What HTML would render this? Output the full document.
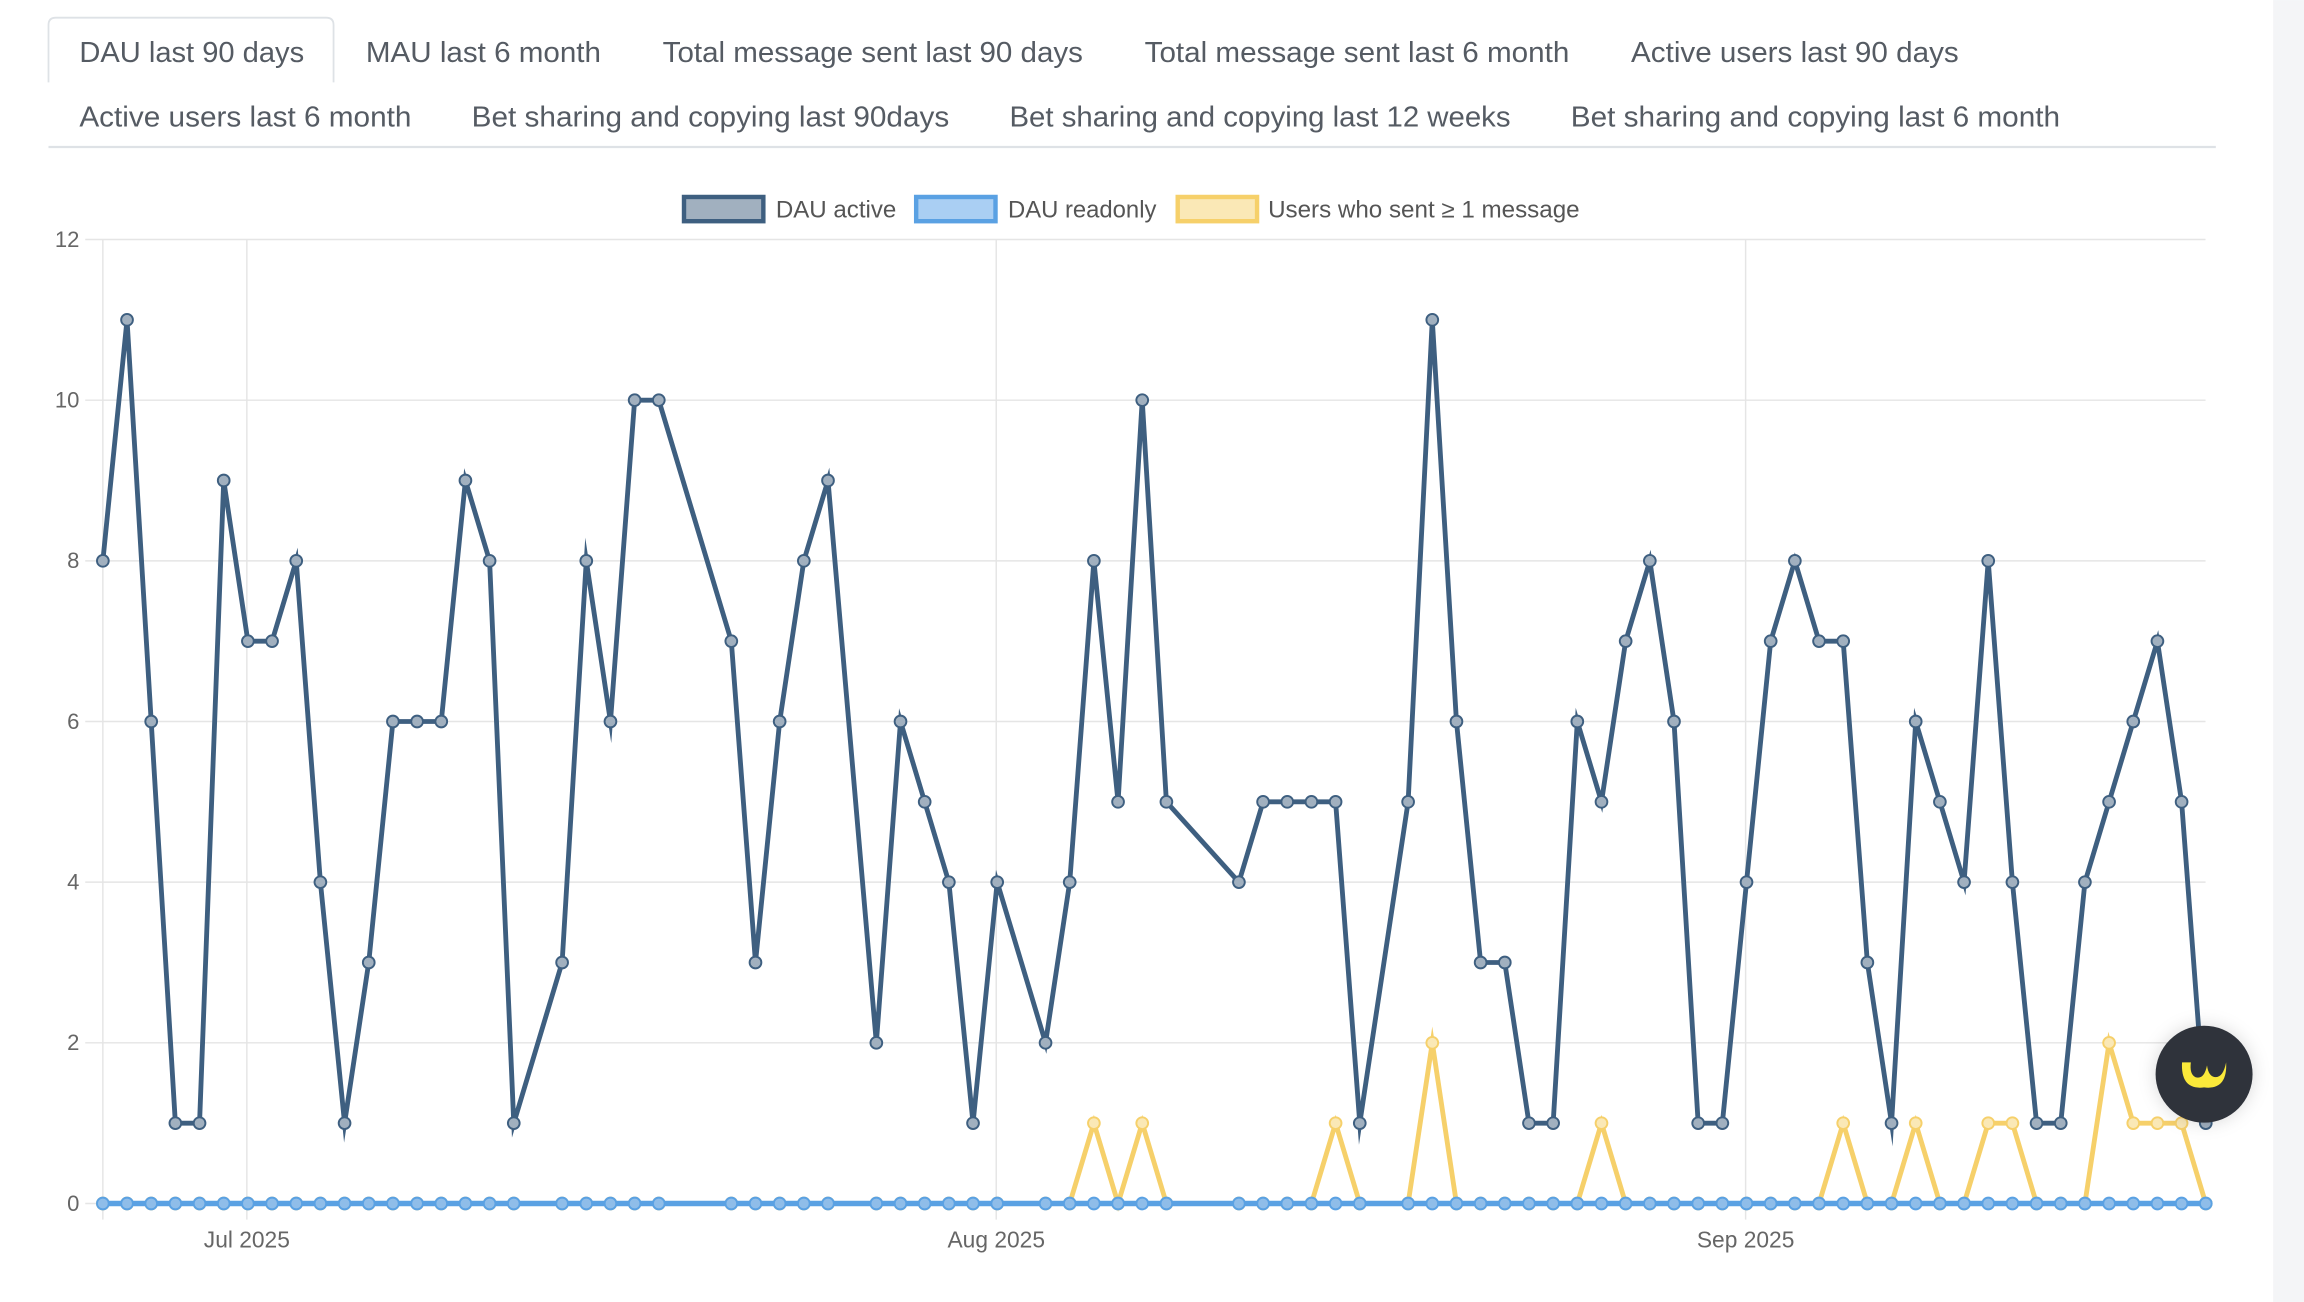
<!DOCTYPE html>
<html><head><meta charset="utf-8"><style>
html,body{margin:0;padding:0;background:#fff;width:2304px;height:1302px;overflow:hidden}
svg{display:block}
text{font-family:"Liberation Sans",Arial,sans-serif}
</style></head><body>
<svg id="s" width="2304" height="1302" viewBox="0 0 1568 886" xmlns="http://www.w3.org/2000/svg">
<rect x="0" y="0" width="1568" height="886" fill="#fff"/>
<rect x="1547" y="0" width="21" height="886" fill="#f4f5f7"/>
<path d="M33,56 L33,17 Q33,12 38,12 L222,12 Q227,12 227,17 L227,56" fill="#fff" stroke="#dee2e6" stroke-width="1.2"/>
<line x1="33" y1="100" x2="1508" y2="100" stroke="#dee2e6" stroke-width="1.5"/>
<g font-size="19.5" fill="#555b63" lengthAdjust="spacingAndGlyphs">
<text x="54" y="42" textLength="153" lengthAdjust="spacingAndGlyphs">DAU last 90 days</text>
<text x="249" y="42" textLength="160" lengthAdjust="spacingAndGlyphs">MAU last 6 month</text>
<text x="451" y="42" textLength="286" lengthAdjust="spacingAndGlyphs">Total message sent last 90 days</text>
<text x="779" y="42" textLength="289" lengthAdjust="spacingAndGlyphs">Total message sent last 6 month</text>
<text x="1110" y="42" textLength="223" lengthAdjust="spacingAndGlyphs">Active users last 90 days</text>
<text x="54" y="86" textLength="226" lengthAdjust="spacingAndGlyphs">Active users last 6 month</text>
<text x="321" y="86" textLength="325" lengthAdjust="spacingAndGlyphs">Bet sharing and copying last 90days</text>
<text x="687" y="86" textLength="341" lengthAdjust="spacingAndGlyphs">Bet sharing and copying last 12 weeks</text>
<text x="1069" y="86" textLength="333" lengthAdjust="spacingAndGlyphs">Bet sharing and copying last 6 month</text>
</g>
<rect x="465.5" y="134" width="54" height="16.5" fill="#a1b0bf" stroke="#3e5f80" stroke-width="3"/>
<text x="528" y="148" font-size="16.3" fill="#555" textLength="82" lengthAdjust="spacingAndGlyphs">DAU active</text>
<rect x="623.5" y="134" width="54" height="16.5" fill="#aacff3" stroke="#5aa1e3" stroke-width="3"/>
<text x="686" y="148" font-size="16.3" fill="#555" textLength="101" lengthAdjust="spacingAndGlyphs">DAU readonly</text>
<rect x="801.5" y="134" width="54" height="16.5" fill="#fae8b6" stroke="#f6d06a" stroke-width="3"/>
<text x="863" y="148" font-size="16.3" fill="#555" textLength="212" lengthAdjust="spacingAndGlyphs">Users who sent ≥ 1 message</text>
<g id="grid" stroke="#e5e5e5" stroke-width="1"></g>
<g id="ylab" font-size="15" fill="#666" text-anchor="end"></g>
<g font-size="15.5" fill="#666" text-anchor="middle">
<text x="168" y="849">Jul 2025</text>
<text x="678" y="849">Aug 2025</text>
<text x="1188" y="849">Sep 2025</text>
</g>
<g id="series"></g>
<circle cx="1500" cy="731" r="33" fill="#2f333b" style="filter:drop-shadow(0 0 6px rgba(0,0,0,0.15))"/>
<path d="M1485,723 Q1484,742 1500,740 Q1516,742 1515,723 Q1513,733 1508,733 Q1503,733 1502,725 Q1500,735 1494,733 Q1490,731 1491,723 Z" fill="#fbe93a"/>
</svg>
<script>
var NS="http://www.w3.org/2000/svg";
function el(t,a,p){var e=document.createElementNS(NS,t);for(var k in a)e.setAttribute(k,a[k]);p.appendChild(e);return e;}
var X0=70,DX=16.45,Y0=819,DY=54.67;
var g=document.getElementById('grid'),yl=document.getElementById('ylab');
for(var v=0;v<=12;v+=2){var y=Y0-v*DY;el('line',{x1:58,y1:y,x2:1501,y2:y},g);var t=el('text',{x:54,y:y+5},yl);t.textContent=v;}
[70,168,678,1188].forEach(function(x){el('line',{x1:x,y1:163,x2:x,y2:830},g);});
var act={0:8,1:11,2:6,3:1,4:1,5:9,6:7,7:7,8:8,9:4,10:1,11:3,12:6,13:6,14:6,15:9,16:8,17:1,19:3,20:8,21:6,22:10,23:10,26:7,27:3,28:6,29:8,30:9,32:2,33:6,34:5,35:4,36:1,37:4,39:2,40:4,41:8,42:5,43:10,44:5,47:4,48:5,49:5,50:5,51:5,52:1,54:5,55:11,56:6,57:3,58:3,59:1,60:1,61:6,62:5,63:7,64:8,65:6,66:1,67:1,68:4,69:7,70:8,71:7,72:7,73:3,74:1,75:6,76:5,77:4,78:8,79:4,80:1,81:1,82:4,83:5,84:6,85:7,86:5,87:1};
var yel={41:1,43:1,51:1,55:2,62:1,72:1,75:1,78:1,79:1,83:2,84:1,85:1,86:1};
var idx=Object.keys(act).map(Number).sort(function(a,b){return a-b;});
var sg=document.getElementById('series');
function draw(fn,stroke,fill,w){var pts=idx.map(function(i){return [X0+i*DX,Y0-fn(i)*DY];});
el('polyline',{points:pts.map(function(p){return p.join(',');}).join(' '),fill:'none',stroke:stroke,'stroke-width':w,'stroke-linejoin':'miter','stroke-miterlimit':10},sg);
pts.forEach(function(p){el('circle',{cx:p[0],cy:p[1],r:4,fill:fill,stroke:stroke,'stroke-width':1.3},sg);});}
draw(function(i){return yel[i]||0;},'#f6d06a','#fae8b6',3.3);
draw(function(i){return 0;},'#5aa1e3','#8fbde9',3.8);
draw(function(i){return act[i];},'#3e5f80','#a1b0bf',3.3);
</script>
</body></html>
